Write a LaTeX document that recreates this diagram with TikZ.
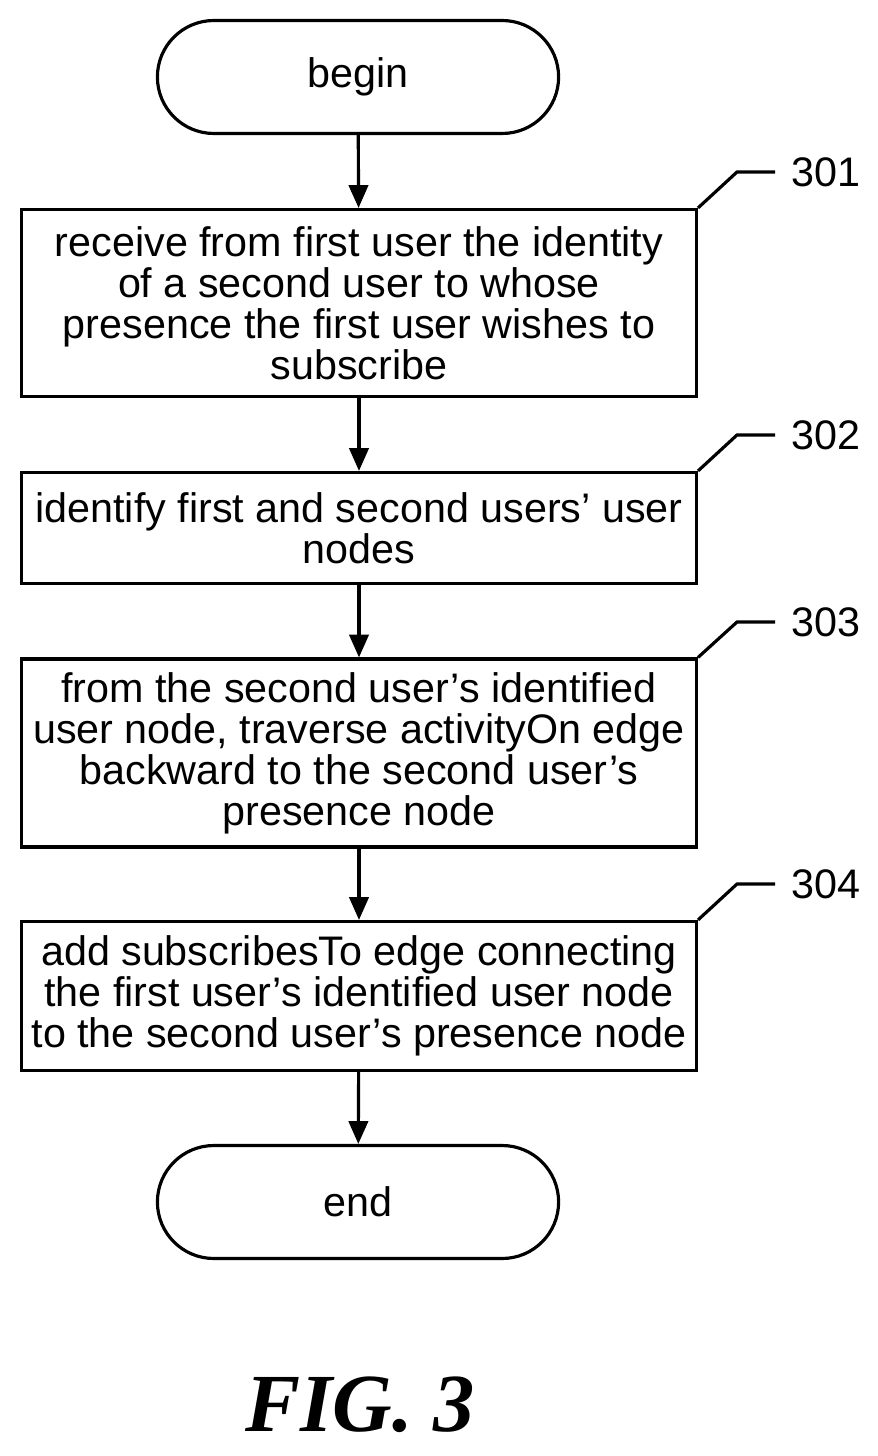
\documentclass[tikz,border=0pt]{standalone}
\usepackage{fontspec}
\setmainfont{Liberation Sans}
\newfontfamily\figfont{Liberation Serif}
\usetikzlibrary{arrows.meta, shapes.misc}

\begin{document}
\begin{tikzpicture}[
		x=0.02cm, y=-0.02cm,
		terminal/.style={draw, line width=1.8pt, rounded rectangle, minimum width=8.26cm, minimum height=2.26cm, font=\fontsize{23.5}{23.3}\selectfont},
		process/.style={draw, line width=1.8pt, minimum width=13.5cm, align=center, inner sep=2pt, font=\fontsize{23.5}{23.3}\selectfont},
		flow/.style={-{Triangle[length=13pt, width=11pt]}, line width=1.8pt},
		leader/.style={line width=1.8pt},
		steplabel/.style={font=\fontsize{23.5}{25}\selectfont}
	]
		\useasboundingbox (0,0) rectangle (878,1456);
		\node[terminal] (begin) at (358, 77) {begin};
		\node[process, minimum height=3.74cm] (receive) at (359, 303) {receive from first user the identity\\of a second user to whose\\presence the first user wishes to\\subscribe};
		\node[process, minimum height=2.22cm] (identify) at (359, 528) {identify first and second users' user\\nodes};
		\node[process, minimum height=3.76cm] (traverse) at (359, 753) {from the second user's identified\\user node, traverse activityOn edge\\backward to the second user's\\presence node};
		\node[process, minimum height=2.98cm] (add) at (359, 996) {add subscribesTo edge connecting\\the first user's identified user node\\to the second user's presence node};
		\node[terminal] (end) at (358, 1202) {end};
		\node[font=\figfont\bfseries\itshape\fontsize{47}{52}\selectfont] (fig) at (360, 1405) {FIG. 3};

		\draw[flow] (begin) -- (receive);
		\draw[flow] (receive) -- (identify);
		\draw[flow] (identify) -- (traverse);
		\draw[flow] (traverse) -- (add);
		\draw[flow] (add) -- (end);

		% reference numerals
		\foreach \blk/\num/\yy in {receive/301/172, identify/302/435, traverse/303/622, add/304/884} {
			\coordinate (k\num) at (737, \yy);
			\coordinate (e\num) at (775, \yy);
			\node[steplabel, anchor=west] (l\num) at (785, \yy) {\num};
			\draw[leader] (\blk.north east) -- (k\num) -- (e\num);
		}
	\end{tikzpicture}
\end{document}
